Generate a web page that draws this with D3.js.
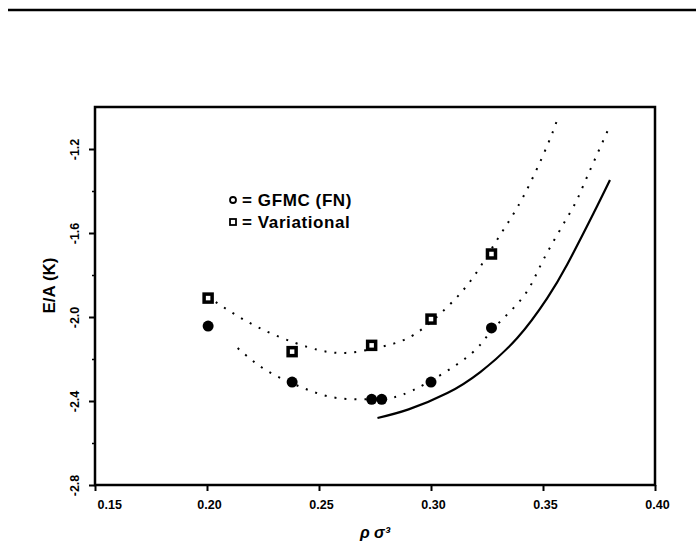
<!DOCTYPE html>
<html>
<head>
<meta charset="utf-8">
<script src="https://cdn.jsdelivr.net/npm/d3@7"></script>
<style>
  html, body { margin: 0; padding: 0; background: #fff; }
  svg { display: block; font-family: "Liberation Sans", Arial, sans-serif; }
</style>
</head>
<body>
<svg id="chart" width="696" height="557"></svg>
<script>
// ---- data ----
const xTicks = [0.15, 0.20, 0.25, 0.30, 0.35, 0.40];
const yTicks = [-2.8, -2.4, -2.0, -1.6, -1.2];
const yMinorTicks = [-2.6, -2.2, -1.8, -1.4];

// GFMC (FN) points (circles)
const gfmcX = [0.2005, 0.238, 0.2735, 0.278, 0.300, 0.327];
const gfmcY = [-2.043, -2.310, -2.392, -2.392, -2.310, -2.052];

// Variational points (squares)
const varX = [0.2005, 0.238, 0.2735, 0.300, 0.327];
const varY = [-1.910, -2.165, -2.135, -2.010, -1.700];

// dotted fit through variational points
const varFitX = [0.2039, 0.2226, 0.2449, 0.2618, 0.2774, 0.2921, 0.3073, 0.3189, 0.3300, 0.3411, 0.3518, 0.3563];
const varFitY = [-1.929, -2.048, -2.143, -2.171, -2.143, -2.086, -1.952, -1.810, -1.624, -1.429, -1.186, -1.062];

// dotted fit through GFMC points
const gfmcFitX = [0.2137, 0.2262, 0.2418, 0.2583, 0.2766, 0.2921, 0.3162, 0.3273, 0.3411, 0.3501, 0.3625, 0.3679, 0.3790];
const gfmcFitY = [-2.148, -2.252, -2.333, -2.386, -2.390, -2.348, -2.190, -2.062, -1.905, -1.729, -1.495, -1.376, -1.110];

// solid curve
const solidX = [0.2761, 0.2900, 0.3073, 0.3220, 0.3385, 0.3519, 0.3608, 0.3724, 0.3799];
const solidY = [-2.481, -2.440, -2.362, -2.262, -2.100, -1.910, -1.750, -1.510, -1.348];

const legendLabels = ["= GFMC (FN)", "= Variational"];

// ---- layout ----
const svg = d3.select("#chart");
const mLeft = 95, mRight = 655, mTop = 107, mBottom = 485;

const x = d3.scaleLinear().domain([0.15, 0.40]).range([mLeft, mRight]);
const y = d3.scaleLinear().domain([-2.8, -1.0]).range([mBottom, mTop]);

// top rule of the page
svg.append("line")
  .attr("x1", 8).attr("x2", 696).attr("y1", 10).attr("y2", 10)
  .attr("stroke", "#000").attr("stroke-width", 2.5);

// frame
svg.append("rect")
  .attr("x", mLeft).attr("y", mTop)
  .attr("width", mRight - mLeft).attr("height", mBottom - mTop)
  .attr("fill", "none").attr("stroke", "#000").attr("stroke-width", 2.5);

// x axis
const xAxis = svg.append("g")
  .attr("transform", `translate(0,${mBottom})`)
  .call(d3.axisBottom(x).tickValues(xTicks).tickSize(6).tickFormat(d => d.toFixed(2)));
xAxis.select(".domain").remove();
xAxis.selectAll("line").attr("stroke", "#000").attr("stroke-width", 2);
xAxis.selectAll("text")
  .attr("font-size", 12.5).attr("font-weight", "bold").attr("fill", "#000")
  .attr("y", 15).attr("dx", 2)
  .attr("text-anchor", (d, i) => i === 0 ? "start" : "middle");

// y axis
const yAxis = svg.append("g")
  .attr("transform", `translate(${mLeft},0)`)
  .call(d3.axisLeft(y).tickValues(yTicks).tickSize(6).tickFormat(d => d.toFixed(1)));
yAxis.select(".domain").remove();
yAxis.selectAll("line").attr("stroke", "#000").attr("stroke-width", 2);
yAxis.selectAll("text")
  .attr("font-size", 12.5).attr("font-weight", "bold").attr("fill", "#000")
  .attr("x", null).attr("dy", null)
  .attr("text-anchor", "middle")
  .attr("transform", "translate(-16,0) rotate(-90)");

// y minor ticks
const yMinor = svg.append("g")
  .attr("transform", `translate(${mLeft},0)`)
  .call(d3.axisLeft(y).tickValues(yMinorTicks).tickSize(3).tickFormat(""));
yMinor.select(".domain").remove();
yMinor.selectAll("line").attr("stroke", "#000").attr("stroke-width", 1.5);

// axis titles
svg.append("text")
  .attr("transform", `translate(55,${y(-1.85)}) rotate(-90)`)
  .attr("text-anchor", "middle")
  .attr("font-size", 17).attr("font-weight", "bold")
  .text("E/A (K)");

svg.append("text")
  .attr("x", (mLeft + mRight) / 2).attr("y", 538)
  .attr("text-anchor", "middle")
  .attr("font-size", 16).attr("font-weight", "bold").attr("font-style", "italic")
  .text("ρ σ³");

// curves
const line = d3.line().x(d => x(d[0])).y(d => y(d[1])).curve(d3.curveNatural);

svg.append("path")
  .datum(varFitX.map((v, i) => [v, varFitY[i]]))
  .attr("d", line).attr("fill", "none")
  .attr("stroke", "#000").attr("stroke-width", 2).attr("stroke-dasharray", "2,8");

svg.append("path")
  .datum(gfmcFitX.map((v, i) => [v, gfmcFitY[i]]))
  .attr("d", line).attr("fill", "none")
  .attr("stroke", "#000").attr("stroke-width", 2).attr("stroke-dasharray", "2,8");

svg.append("path")
  .datum(solidX.map((v, i) => [v, solidY[i]]))
  .attr("d", line).attr("fill", "none")
  .attr("stroke", "#000").attr("stroke-width", 2.2);

// GFMC markers
svg.append("g").selectAll("circle")
  .data(gfmcX.map((v, i) => [v, gfmcY[i]]))
  .join("circle")
  .attr("cx", d => x(d[0])).attr("cy", d => y(d[1]))
  .attr("r", 5.5).attr("fill", "#000");

// Variational markers
const sq = 8;
svg.append("g").selectAll("rect")
  .data(varX.map((v, i) => [v, varY[i]]))
  .join("rect")
  .attr("x", d => x(d[0]) - sq / 2).attr("y", d => y(d[1]) - sq / 2)
  .attr("width", sq).attr("height", sq)
  .attr("fill", "#fff").attr("stroke", "#000").attr("stroke-width", 3.5);

// legend
const lg = svg.append("g").attr("transform", "translate(233,200)");
lg.append("circle").attr("cx", 0).attr("cy", 0).attr("r", 3)
  .attr("fill", "none").attr("stroke", "#000").attr("stroke-width", 1.8);
lg.append("rect").attr("x", -3).attr("y", 19).attr("width", 6).attr("height", 6)
  .attr("fill", "none").attr("stroke", "#000").attr("stroke-width", 1.8);
lg.selectAll("text.lbl")
  .data(legendLabels)
  .join("text")
  .attr("class", "lbl")
  .attr("x", 9).attr("y", (d, i) => i * 22 + 6)
  .attr("font-size", 17).attr("font-weight", "bold").attr("letter-spacing", 0.6)
  .text(d => d);
</script>
</body>
</html>
